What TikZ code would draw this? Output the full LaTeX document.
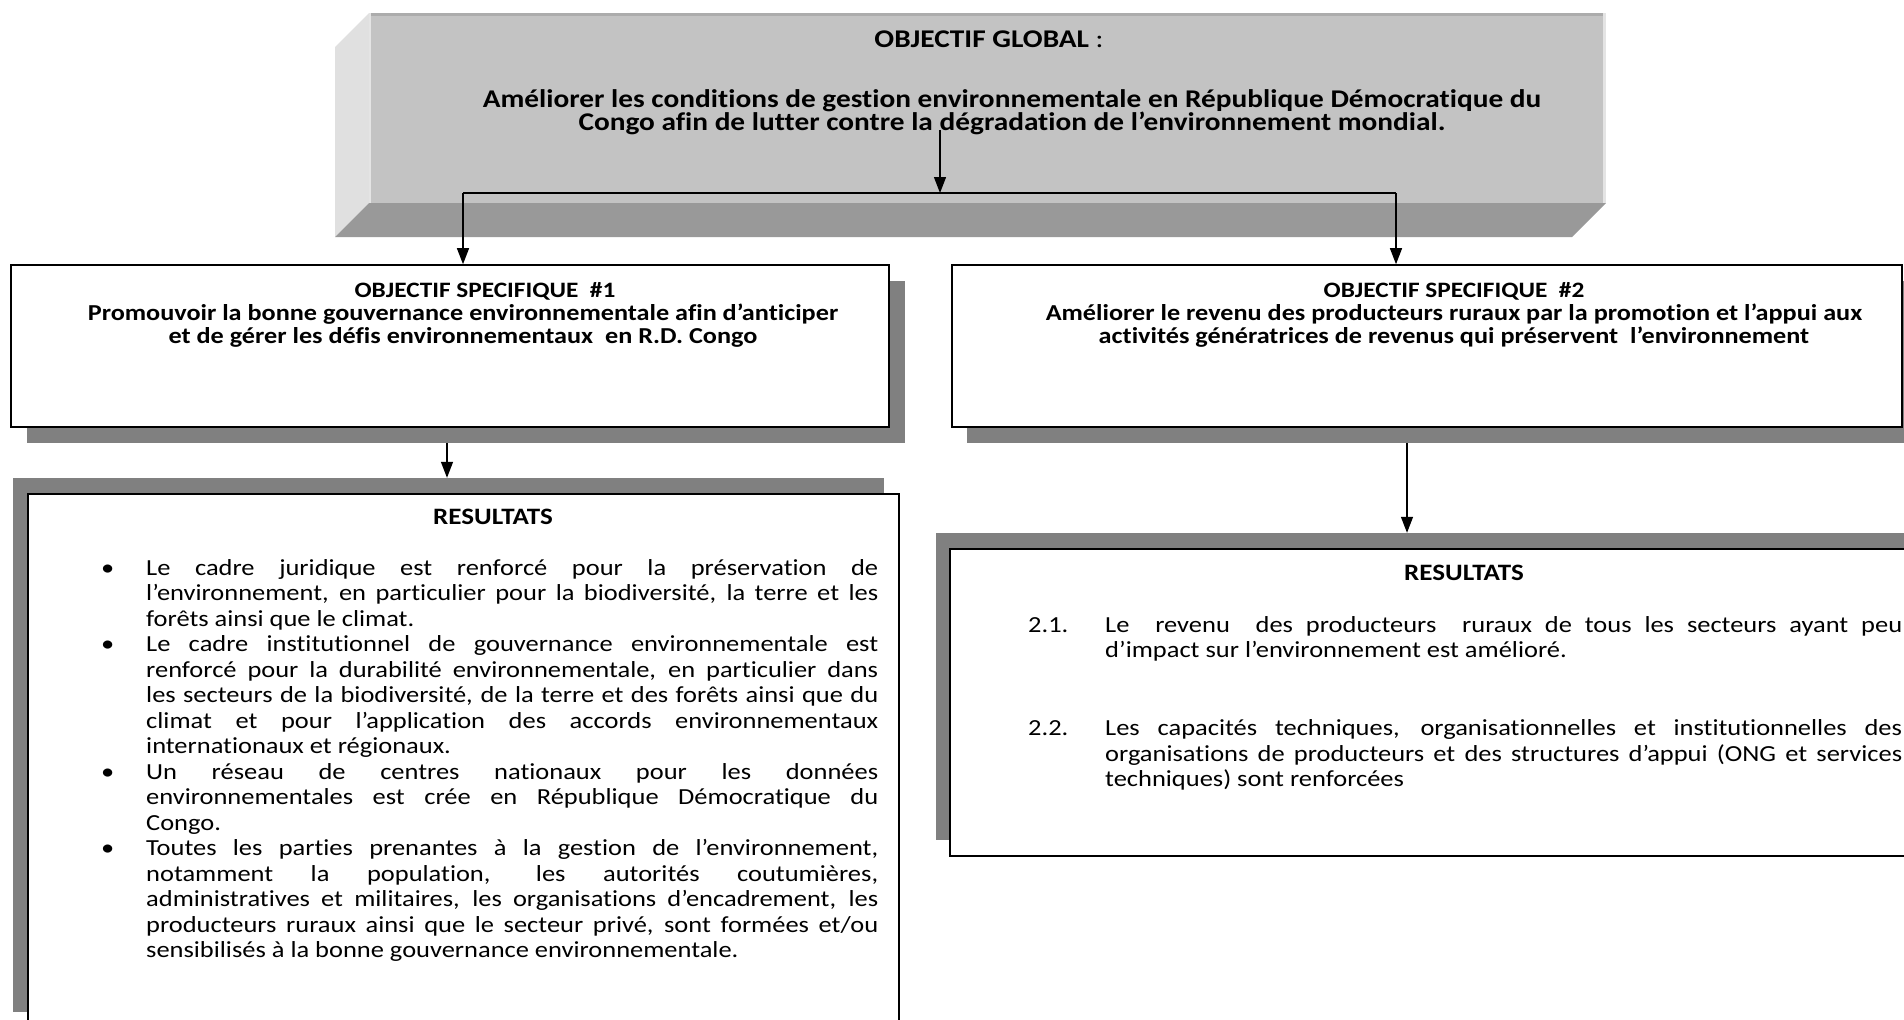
\documentclass[tikz,border=0pt]{standalone}
\usepackage{fontspec}
\setmainfont{Carlito}[FakeStretch=1.15, Ligatures={TeX,NoCommon}]
\usetikzlibrary{arrows.meta}
\definecolor{face}{RGB}{195,195,195}
\definecolor{faceTop}{RGB}{172,172,172}
\definecolor{faceEdge}{RGB}{228,228,228}
\definecolor{bevL}{RGB}{224,224,224}
\definecolor{bevB}{RGB}{153,153,153}
\definecolor{shad}{RGB}{128,128,128}
\newcommand\RBfirst[1]{\hbox{\makebox[45pt][l]{\textbullet}\makebox[732pt][s]{#1}}}
\newcommand\RBjust[1]{\hbox{\kern45pt\makebox[732pt][s]{#1}}}
\newcommand\RBlast[1]{\hbox{\kern45pt #1}}
\newcommand\RNfirst[2]{\hbox{\makebox[77pt][l]{#1}\makebox[797pt][s]{#2}}}
\newcommand\RNjust[1]{\hbox{\kern77pt\makebox[797pt][s]{#1}}}
\newcommand\RNlast[1]{\hbox{\kern77pt #1}}
\begin{document}
\begin{tikzpicture}[x=1pt,y=-1pt,
  specbox/.style={draw=black, line width=1.6pt, fill=white, rectangle, inner sep=0pt},
  shadowbox/.style={fill=shad, draw=none, rectangle, inner sep=0pt},
  arr/.style={line width=1.3pt, -{Triangle[length=16pt,width=12pt]}},
  conn/.style={line width=1.3pt},
  boldtxt/.style={font=\bfseries\fontsize{22.8}{23}\selectfont, inner sep=0pt, align=center},
  spectitle/.style={font=\bfseries\fontsize{22}{23}\selectfont, inner sep=0pt},
  restitle/.style={font=\bfseries\fontsize{23.5}{25}\selectfont, inner sep=0pt},
  toptxt/.style={font=\bfseries\fontsize{25.5}{23}\selectfont, inner sep=0pt, align=center},
  bodytxt/.style={font=\fontsize{23}{25.5}\selectfont, inner sep=0pt, anchor=base west}]
\useasboundingbox (0,0) rectangle (1904,1020);
\clip (0,0) rectangle (1904,1020);
% ---- top bevelled box
\fill[bevL] (369,13) -- (335,47) -- (335,237) -- (369,203) -- cycle;
\fill[bevB] (369,203) -- (1606,203) -- (1572,237) -- (335,237) -- cycle;
\node[fill=face, draw=none, rectangle, inner sep=0pt, minimum width=1237pt, minimum height=190pt] (glob) at (987.5,108) {};
\fill[faceTop] (369,13) rectangle (1606,16);
\fill[faceEdge] (369,13) rectangle (371,203);
\fill[faceEdge] (1603,13) rectangle (1606,203);
\node[toptxt] (globtitle) at (989,39) {OBJECTIF GLOBAL {\mdseries :}};
\node[toptxt] (globtext) at (1012,112) {Améliorer les conditions de gestion environnementale en République Démocratique du\\Congo afin de lutter contre la dégradation de l’environnement mondial.};
% ---- specific objective boxes
\node[shadowbox, minimum width=878pt, minimum height=162pt] (sh1) at (466,362) {};
\node[specbox, minimum width=878pt, minimum height=162pt] (s1) at (450,346) {};
\node[shadowbox, minimum width=953pt, minimum height=162pt] (sh2) at (1443.5,362) {};
\node[specbox, minimum width=950pt, minimum height=162pt] (s2) at (1427,346) {};
\node[spectitle] (s1title) at (485,291) {OBJECTIF SPECIFIQUE\ \ \#1};
\node[boldtxt] (s1text) at (463,326) {Promouvoir la bonne gouvernance environnementale afin d’anticiper\\et de gérer les défis environnementaux\ \ en R.D. Congo};
\node[spectitle] (s2title) at (1454,291) {OBJECTIF SPECIFIQUE\ \ \#2};
\node[boldtxt] (s2text) at (1454,326) {Améliorer le revenu des producteurs ruraux par la promotion et l’appui aux\\activités génératrices de revenus qui préservent\ \ l’environnement};
% ---- results boxes
\node[shadowbox, minimum width=871pt, minimum height=534pt] (rsh1) at (448.5,745) {};
\node[specbox, minimum width=871pt, minimum height=546pt] (r1) at (463.5,767) {};
\node[shadowbox, minimum width=970pt, minimum height=307pt] (rsh2) at (1421,686.5) {};
\node[specbox, minimum width=970pt, minimum height=307pt] (r2) at (1435,702.5) {};
\node[restitle] (r1title) at (493,517) {RESULTATS};
\node[restitle] (r2title) at (1464,573) {RESULTATS};
\node[bodytxt] (r1body) at (101,575) {\vtop{\parindent=0pt
\RBfirst{Le cadre juridique est renforcé pour la préservation de}
\RBjust{l’environnement, en particulier pour la biodiversité, la terre et les}
\RBlast{forêts ainsi que le climat.}
\RBfirst{Le cadre institutionnel de gouvernance environnementale est}
\RBjust{renforcé pour la durabilité environnementale, en particulier dans}
\RBjust{les secteurs de la biodiversité, de la terre et des forêts ainsi que du}
\RBjust{climat et pour l’application des accords environnementaux}
\RBlast{internationaux et régionaux.}
\RBfirst{Un réseau de centres nationaux pour les données}
\RBjust{environnementales est crée en République Démocratique du}
\RBlast{Congo.}
\RBfirst{Toutes les parties prenantes à la gestion de l’environnement,}
\RBjust{notamment la population, les autorités coutumières,}
\RBjust{administratives et militaires, les organisations d’encadrement, les}
\RBjust{producteurs ruraux ainsi que le secteur privé, sont formées et/ou}
\RBlast{sensibilisés à la bonne gouvernance environnementale.}}};
\node[bodytxt, font=\fontsize{23}{25.8}\selectfont] (r2body) at (1028,632) {\vtop{\parindent=0pt
\RNfirst{2.1.}{Le\ \ revenu\ \ des producteurs\ \ ruraux de tous les secteurs ayant peu}
\RNlast{d’impact sur l’environnement est amélioré.}
\vskip 51.6pt
\RNfirst{2.2.}{Les capacités techniques, organisationnelles et institutionnelles des}
\RNjust{organisations de producteurs et des structures d’appui (ONG et services}
\RNlast{techniques) sont renforcées}}};
% ---- connectors
\coordinate (c0) at (940,130);
\coordinate (jn) at (940,193);
\coordinate (j1) at (463,193);
\coordinate (j2) at (1396,193);
\draw[conn] (j1) -- (j2);
\draw[arr] (c0) -- (jn);
\draw[arr] (j1) -- (j1 |- s1.north);
\draw[arr] (j2) -- (j2 |- s2.north);
\coordinate (k1) at (447,0);
\coordinate (k2) at (1407,0);
\draw[arr] (k1 |- sh1.south) -- (k1 |- rsh1.north);
\draw[arr] (k2 |- sh2.south) -- (k2 |- rsh2.north);
\end{tikzpicture}
\end{document}
